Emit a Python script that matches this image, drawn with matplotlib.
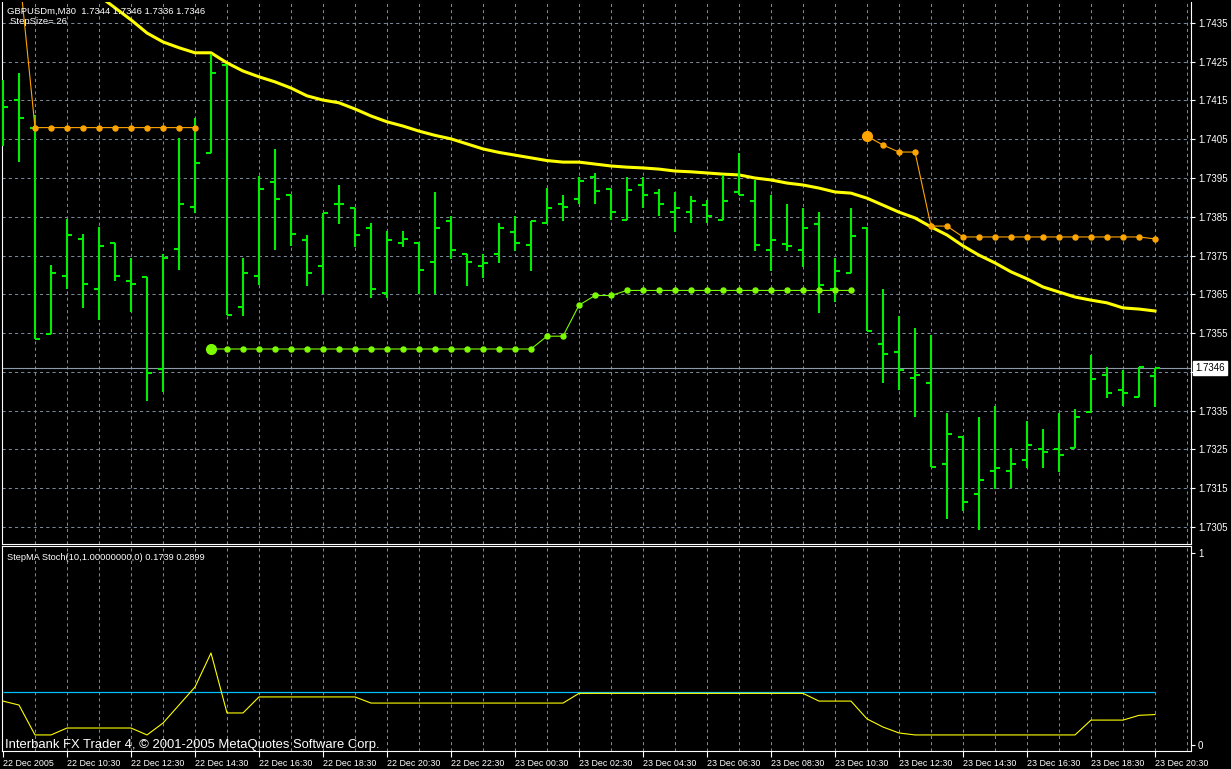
import matplotlib
matplotlib.use('Agg')
import matplotlib.pyplot as plt
import matplotlib.transforms as mtransforms
import numpy as np

plt.rcParams['font.family'] = ['Liberation Sans', 'DejaVu Sans']

# ---- data (GBPUSDm, M30, 22 Dec 08:30 .. 23 Dec 20:30) ----
opens = [1.7415, 1.7415, 1.7408, 1.73547, 1.73696, 1.73792, 1.73665, 1.73783, 1.73684, 1.73694,
         1.73457, 1.73766, 1.73875, 1.74014, 1.74241, 1.73617, 1.73696, 1.73941, 1.73905, 1.7379,
         1.73724, 1.73884, 1.73873, 1.73822, 1.73653, 1.73783, 1.73782, 1.73733, 1.7384, 1.73753,
         1.73724, 1.73755, 1.73812, 1.73776, 1.73835, 1.73883, 1.73896, 1.73952, 1.73922, 1.73842,
         1.73931, 1.73911, 1.73863, 1.73863, 1.73881, 1.73842, 1.73913, 1.73892, 1.73764, 1.7378,
         1.73764, 1.73832, 1.73663, 1.73705, 1.73822, 1.73521, 1.73501, 1.73434, 1.73421, 1.73213,
         1.73283, 1.73136, 1.73194, 1.73194, 1.73223, 1.73252, 1.73252, 1.73253, 1.73346, 1.73442,
         1.73403, 1.73384, 1.7344]
highs = [1.74202, 1.74222, 1.74112, 1.73725, 1.73843, 1.73805, 1.73824, 1.73783, 1.73744, 1.73694,
         1.73755, 1.74052, 1.74104, 1.74271, 1.74241, 1.73744, 1.73955, 1.74024, 1.73905, 1.73803,
         1.73861, 1.73933, 1.73873, 1.73834, 1.73814, 1.73814, 1.73782, 1.73915, 1.73853, 1.73753,
         1.73753, 1.73834, 1.73853, 1.7384, 1.73923, 1.73905, 1.73953, 1.73963, 1.73922, 1.73953,
         1.73953, 1.73922, 1.73914, 1.73903, 1.73894, 1.73959, 1.74014, 1.73944, 1.73905, 1.73884,
         1.73873, 1.73862, 1.73743, 1.73873, 1.73823, 1.73663, 1.73594, 1.73564, 1.73544, 1.73344,
         1.73283, 1.73334, 1.73363, 1.73253, 1.73324, 1.73302, 1.73344, 1.73354, 1.73494, 1.73462,
         1.73454, 1.73462, 1.7346]
lows = [1.74032, 1.73991, 1.73536, 1.73547, 1.73663, 1.73615, 1.73583, 1.73684, 1.73604, 1.73375,
        1.73397, 1.73713, 1.7386, 1.74014, 1.73596, 1.73594, 1.73673, 1.73764, 1.73775, 1.73672,
        1.7365, 1.73832, 1.73773, 1.7364, 1.7364, 1.73773, 1.7365, 1.73652, 1.73742, 1.73672,
        1.73692, 1.73731, 1.73763, 1.7371, 1.73834, 1.7384, 1.73883, 1.73883, 1.73842, 1.73842,
        1.73873, 1.73851, 1.73812, 1.73834, 1.73834, 1.73842, 1.73905, 1.73763, 1.7371, 1.73763,
        1.73721, 1.73602, 1.7363, 1.73705, 1.73556, 1.73421, 1.73403, 1.73333, 1.73205, 1.73071,
        1.73092, 1.73043, 1.73149, 1.73151, 1.73203, 1.73203, 1.73193, 1.73253, 1.73346, 1.73383,
        1.73361, 1.73384, 1.7336]
closes = [1.74133, 1.74104, 1.73536, 1.73705, 1.73802, 1.73676, 1.73774, 1.73696, 1.73676, 1.73447,
          1.73743, 1.73883, 1.7399, 1.7422, 1.73596, 1.73704, 1.73921, 1.73895, 1.73805, 1.73705,
          1.73861, 1.73884, 1.73803, 1.73663, 1.7379, 1.73792, 1.73712, 1.73822, 1.73764, 1.73733,
          1.73731, 1.73822, 1.73783, 1.7384, 1.73873, 1.73874, 1.73943, 1.73916, 1.73863, 1.7392,
          1.73905, 1.73884, 1.73872, 1.73892, 1.73853, 1.73892, 1.73905, 1.73776, 1.7379, 1.73775,
          1.73822, 1.73675, 1.7371, 1.73801, 1.73555, 1.73495, 1.73455, 1.73441, 1.73205, 1.73291,
          1.73115, 1.73171, 1.73203, 1.73212, 1.73262, 1.73244, 1.73235, 1.73333, 1.73432, 1.73395,
          1.73395, 1.73462, 1.7346]

# moving average (yellow)
ma = [1.7460, 1.7457, 1.7454, 1.7451, 1.74482, 1.74451, 1.7442, 1.74389, 1.74358, 1.74324,
      1.74301, 1.74286, 1.74273, 1.74273, 1.74247, 1.74226, 1.74211, 1.74198, 1.74182, 1.74162,
      1.74151, 1.74144, 1.74128, 1.7411, 1.74095, 1.74084, 1.74071, 1.7406, 1.74051, 1.74038,
      1.74025, 1.74016, 1.74009, 1.74002, 1.73995, 1.73991, 1.73991, 1.73986, 1.73981, 1.73978,
      1.73976, 1.73973, 1.73968, 1.73966, 1.73963, 1.7396, 1.73958, 1.7395, 1.73945, 1.73937,
      1.73932, 1.73924, 1.73914, 1.73911, 1.73898, 1.7388, 1.73862, 1.73847, 1.73824, 1.73803,
      1.73775, 1.73751, 1.73731, 1.73708, 1.7369, 1.73669, 1.73656, 1.73643, 1.73635, 1.73628,
      1.73615, 1.73612, 1.73607]

nan = float('nan')
# StepMA levels: orange (down trend) and green (up trend)
step_down = ([1.7452, 1.7449] + [1.7408] * 11 + [nan] * 41 +
             [1.74058, 1.74035, 1.74017, 1.74017, 1.73826, 1.73826] + [1.73798] * 12 + [1.73793])
step_up = ([nan] * 13 + [1.73509] * 21 + [1.73542, 1.73542, 1.73622, 1.73647, 1.73647] +
           [1.7366] * 15 + [nan] * 19)
step_down_start = 54
step_up_start = 13

# StepMA Stoch sub window
stoch = [0.242, 0.222, 0.071, 0.071, 0.106, 0.106, 0.106, 0.106, 0.106, 0.071,
         0.131, 0.222, 0.313, 0.485, 0.182, 0.182, 0.263, 0.263, 0.263, 0.263,
         0.263, 0.263, 0.263, 0.232, 0.232, 0.232, 0.232, 0.232, 0.232, 0.232,
         0.232, 0.232, 0.232, 0.232, 0.232, 0.232, 0.281, 0.281, 0.281, 0.281,
         0.281, 0.281, 0.281, 0.281, 0.281, 0.281, 0.281, 0.281, 0.281, 0.281,
         0.281, 0.242, 0.242, 0.242, 0.152, 0.111, 0.081, 0.071, 0.071, 0.071,
         0.071, 0.071, 0.071, 0.071, 0.071, 0.071, 0.071, 0.071, 0.146, 0.146,
         0.146, 0.17, 0.1739]
stoch_level = 0.2899

price_ticks = [1.7305, 1.7315, 1.7325, 1.7335, 1.7345, 1.7355, 1.7365, 1.7375,
               1.7385, 1.7395, 1.7405, 1.7415, 1.7425, 1.7435]
last_price = 1.7346
time_labels = ['22 Dec 2005', '22 Dec 10:30', '22 Dec 12:30', '22 Dec 14:30', '22 Dec 16:30',
               '22 Dec 18:30', '22 Dec 20:30', '22 Dec 22:30', '23 Dec 00:30', '23 Dec 02:30',
               '23 Dec 04:30', '23 Dec 06:30', '23 Dec 08:30', '23 Dec 10:30', '23 Dec 12:30',
               '23 Dec 14:30', '23 Dec 16:30', '23 Dec 18:30', '23 Dec 20:30']

# ---- figure ----
W, H = 1231, 769
fig = plt.figure(figsize=(W / 100, H / 100), dpi=100, facecolor='black')

def box(l, t, r, b):
    return [l / W, 1 - b / H, (r - l) / W, (b - t) / H]

ax = fig.add_axes(box(2, 2, 1191, 544))
ax2 = fig.add_axes(box(2, 546, 1191, 751))

gridc = '#7a8796'
bar_c = '#00ee00'
x = np.arange(len(opens))
xlim = (-0.0625, 74.25)

for a in (ax, ax2):
    a.set_facecolor('black')
    a.set_xlim(*xlim)
    for k in range(2, 75, 2):
        a.axvline(k, color=gridc, lw=0.75, ls=(0, (3, 3)), zorder=0)
    for s in a.spines.values():
        s.set_color('white')
        s.set_linewidth(0.8)
ax.spines['top'].set_visible(False)

ax.set_ylim(1.73006, 1.74404)
for p in price_ticks:
    ax.axhline(p, color=gridc, lw=0.75, ls=(0, (3, 3)), zorder=0)
ax.axhline(last_price, color='#8c9aaa', lw=0.8, zorder=1)

# OHLC bars
ax.vlines(x, lows, highs, color=bar_c, lw=1.5, zorder=4)
ax.hlines(opens, x - 0.3, x, color=bar_c, lw=1.5, zorder=4)
ax.hlines(closes, x, x + 0.3, color=bar_c, lw=1.5, zorder=4)

ax.plot(x, ma, color='#ffff00', lw=2.2, zorder=3)

ax.plot(x, step_down, color='#ffa500', lw=0.8, marker='o', ms=3.6, zorder=5)
ax.plot(step_down_start, step_down[step_down_start], 'o', color='#ffa500', ms=7, zorder=5)
ax.plot(x, step_up, color='#7cfc00', lw=0.8, marker='o', ms=3.6, zorder=5)
ax.plot(step_up_start, step_up[step_up_start], 'o', color='#7cfc00', ms=7, zorder=5)

ax.yaxis.tick_right()
ax.set_yticks(price_ticks)
ax.set_yticklabels(['%.4f' % p for p in price_ticks])
ax.tick_params(axis='y', colors='white', length=3, width=0.8, pad=2, labelsize=7)
ax.set_xticks([])

trans = mtransforms.blended_transform_factory(ax.transAxes, ax.transData)
ax.text(1.0035, last_price, '%.4f' % last_price, transform=trans, color='black', fontsize=7,
        va='center', ha='left', zorder=10,
        bbox=dict(facecolor='white', edgecolor='white', pad=1.3))

# sub window
ax2.set_ylim(-0.0101, 1.0253)
ax2.plot(x, stoch, color='#ffff00', lw=0.8, zorder=3)
ax2.hlines(stoch_level, x[0], x[-1], color='#00bfff', lw=0.9, zorder=2)
ax2.yaxis.tick_right()
ax2.set_yticks([0.02, 0.99])
ax2.set_yticklabels(['0', '1'])
ax2.tick_params(axis='y', colors='white', length=3, width=0.8, pad=2, labelsize=7)
ax2.set_xticks(range(0, 73, 4))
ax2.set_xticklabels(time_labels)
ax2.tick_params(axis='x', colors='white', length=4, width=0.8, pad=1.5, labelsize=6.4)
for lab in ax2.get_xticklabels():
    lab.set_horizontalalignment('left')

# texts
fig.text(7 / W, 1 - 11 / H, 'GBPUSDm,M30  1.7344 1.7346 1.7336 1.7346', color='white',
         fontsize=6.8, va='center', ha='left')
fig.text(10 / W, 1 - 21 / H, 'StepSize= 26', color='white', fontsize=6.8, va='center', ha='left')
fig.text(7 / W, 1 - 557 / H, 'StepMA Stoch(10,1.00000000,0) 0.1739 0.2899', color='white',
         fontsize=6.7, va='center', ha='left')
fig.text(5 / W, 1 - 745 / H, 'Interbank FX Trader 4, \u00a9 2001-2005 MetaQuotes Software Corp.',
         color='white', fontsize=9.4, va='center', ha='left')

fig.savefig('out.png', dpi=100, facecolor='black')
